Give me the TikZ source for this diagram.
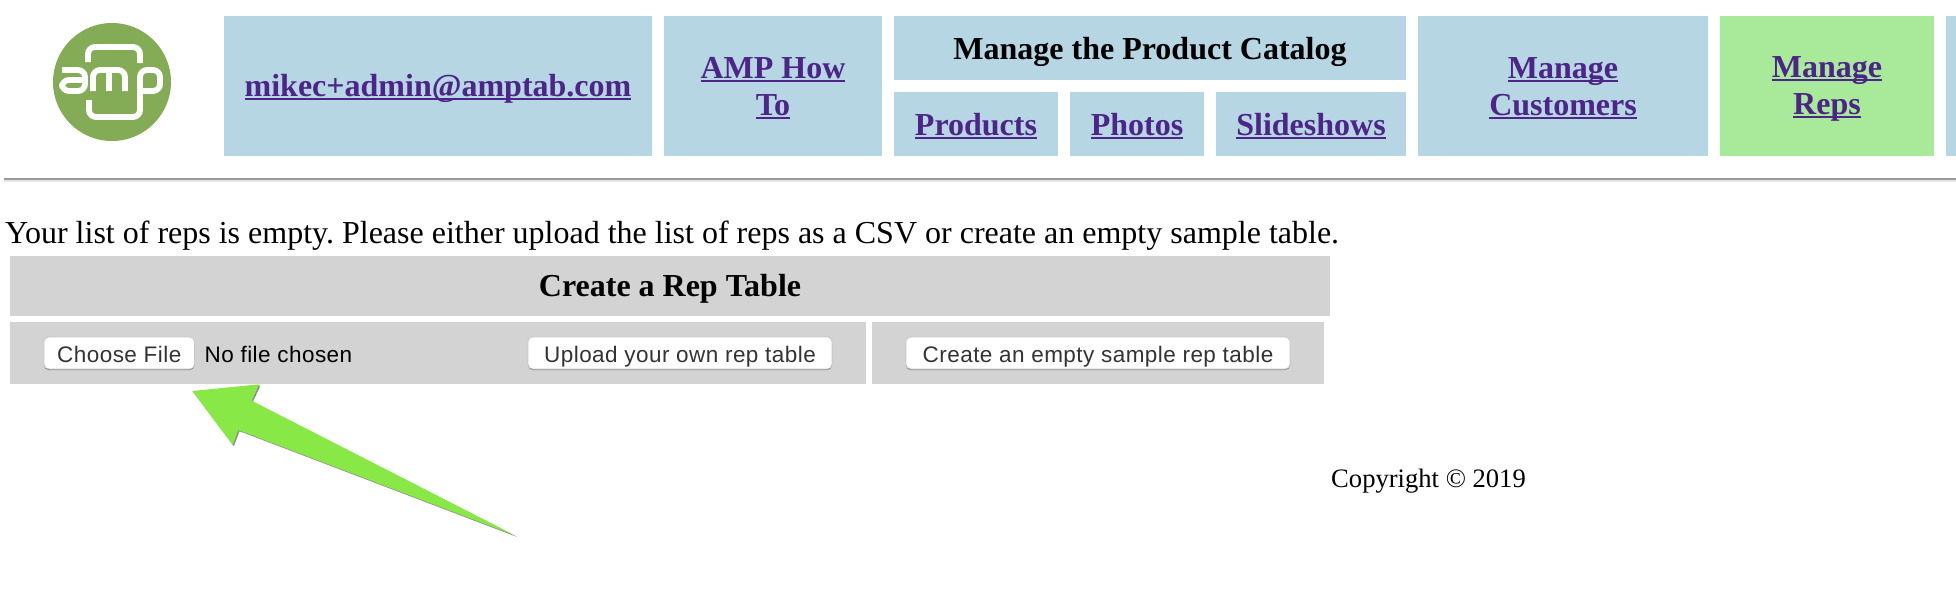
\documentclass[tikz,border=0pt]{standalone}
\usepackage{fontspec}
\setmainfont{Liberation Serif}
\newfontfamily\btnfont[LetterSpace=2]{Liberation Sans}
\usetikzlibrary {shadows}
\definecolor{navblue}{HTML}{B5D6E2}
\definecolor{navgreen}{HTML}{A8EA9A}
\definecolor{panelgray}{HTML}{D3D3D3}
\definecolor{linkpurple}{HTML}{4D2488}
\definecolor{logogreen}{HTML}{84AC57}
\definecolor{arrowgreen}{HTML}{88E846}
\newcommand{\navlink}[1]{\leavevmode\setbox0\hbox{#1}\rlap{\rule[-3.6pt]{\wd0}{2pt}}\box0\rule[-5pt]{0pt}{32pt}}
\frenchspacing

\begin{document}
\begin{tikzpicture}[x=1pt,y=-1pt]
    \tikzstyle{nav} = [shape=rectangle,fill=navblue,inner sep=0pt,text=linkpurple,align=center,font=\fontsize{32}{36.5}\selectfont\bfseries]
    \tikzstyle{panel} = [shape=rectangle,fill=panelgray,inner sep=0pt]
    \tikzstyle{btn} = [shape=rectangle,rounded corners=5pt,fill=white,draw=black!22,line width=0.6pt,inner sep=0pt,minimum height=32pt,text height=19pt,text depth=1pt,text=black!80,font=\btnfont\fontsize{22.5}{26}\selectfont,drop shadow={shadow xshift=0pt,shadow yshift=-1.2pt,fill=black,opacity=0.35}]
    \tikzstyle{para} = [inner sep=0pt,anchor=base west,font=\fontsize{26.6}{32}\selectfont]
    \tikzstyle{logoline} = [draw=white,line width=5.8pt,rounded corners=7pt]
    \useasboundingbox (0,0) rectangle (1956,592);
    \node [shape=circle,fill=logogreen,inner sep=0pt,minimum size=118pt] (logo) at (112,82) {};
    \draw [logoline] (88,62) -- (88,47) -- (140,47) -- (140,63);
    \draw [logoline] (62,70) -- (85,70) -- (85,91) -- (62,91) -- (62,80) -- (85,80);
    \draw [logoline] (93,91) -- (93,70) -- (125,70) -- (125,91);
    \draw [logoline] (109,70) -- (109,91);
    \draw [logoline] (140,91) -- (160,91) -- (160,70) -- (140,70) -- (140,117) -- (89,117) -- (89,100);
    \node [nav,minimum width=428pt,minimum height=140pt] (email) at (438,86) {\navlink{mikec+admin@amptab.com}};
    \node [nav,minimum width=218pt,minimum height=140pt] (howto) at (773,86) {\navlink{AMP How}\\\navlink{To}};
    \node [nav,text=black,text height=27pt,text depth=5pt,minimum width=512pt,minimum height=64pt] (catalog) at (1150,48) {Manage the Product Catalog};
    \node [nav,minimum width=164pt,minimum height=64pt] (products) at (976,124) {\navlink{Products}};
    \node [nav,minimum width=134pt,minimum height=64pt] (photos) at (1137,124) {\navlink{Photos}};
    \node [nav,minimum width=190pt,minimum height=64pt] (slideshows) at (1311,124) {\navlink{Slideshows}};
    \node [nav,minimum width=290pt,minimum height=140pt] (customers) at (1563,86) {\navlink{Manage}\\\navlink{Customers}};
    \node [nav,fill=navgreen,minimum width=214pt,minimum height=140pt] (reps) at (1827,86) {\navlink{Manage}\\\navlink{Reps}};
    \node [nav,minimum width=10pt,minimum height=140pt] (sliver) at (1951,86) {};
    \coordinate (ruleleft) at (4,179);
    \coordinate (ruleright) at (1956,179);
    \coordinate (bandleft) at (4,181);
    \coordinate (bandright) at (1956,181);
    \draw [draw=black!10,line width=2pt] (bandleft) -- (bandright);
    \draw [draw=black!40,line width=2pt] (ruleleft) -- (ruleright);
    \node [para,font=\fontsize{32}{36}\selectfont] (intro) at (5,243) {Your list of reps is empty. Please either upload the list of reps as a CSV or create an empty sample table.};
    \node [panel,text height=26pt,text depth=5pt,minimum width=1320pt,minimum height=60pt,font=\fontsize{32}{36}\selectfont\bfseries] (title) at (670,286) {Create a Rep Table};
    \node [panel,minimum width=856pt,minimum height=62pt] (uploadrow) at (438,353) {};
    \node [panel,minimum width=452pt,minimum height=62pt] (createrow) at (1098,353) {};
    \node [btn,minimum width=150.5pt] (choose) at (119.25,353) {Choose File};
    \node [inner sep=0pt,text=black,anchor=base west,font=\btnfont\fontsize{22.5}{26}\selectfont] (nofile) at (204.5,362) {No file chosen};
    \node [btn,minimum width=304pt] (upload) at (680,353) {Upload your own rep table};
    \node [btn,minimum width=384pt] (create) at (1098,353) {Create an empty sample rep table};
    \coordinate (tip) at (192.3,391);
    \coordinate (wingtop) at (259.3,384.3);
    \coordinate (necktop) at (251.7,400.7);
    \coordinate (tail) at (515.7,535.7);
    \coordinate (neckbot) at (238.3,430);
    \coordinate (wingbot) at (232.7,445);
    \fill [arrowgreen,drop shadow={shadow xshift=1.2pt,shadow yshift=-1.2pt,fill=black,opacity=0.45}] (tip) -- (wingtop) -- (necktop) -- (tail) -- (neckbot) -- (wingbot) -- cycle;
    \node [para] (copyright) at (1331,487) {Copyright © 2019};
\end{tikzpicture}
\end{document}
